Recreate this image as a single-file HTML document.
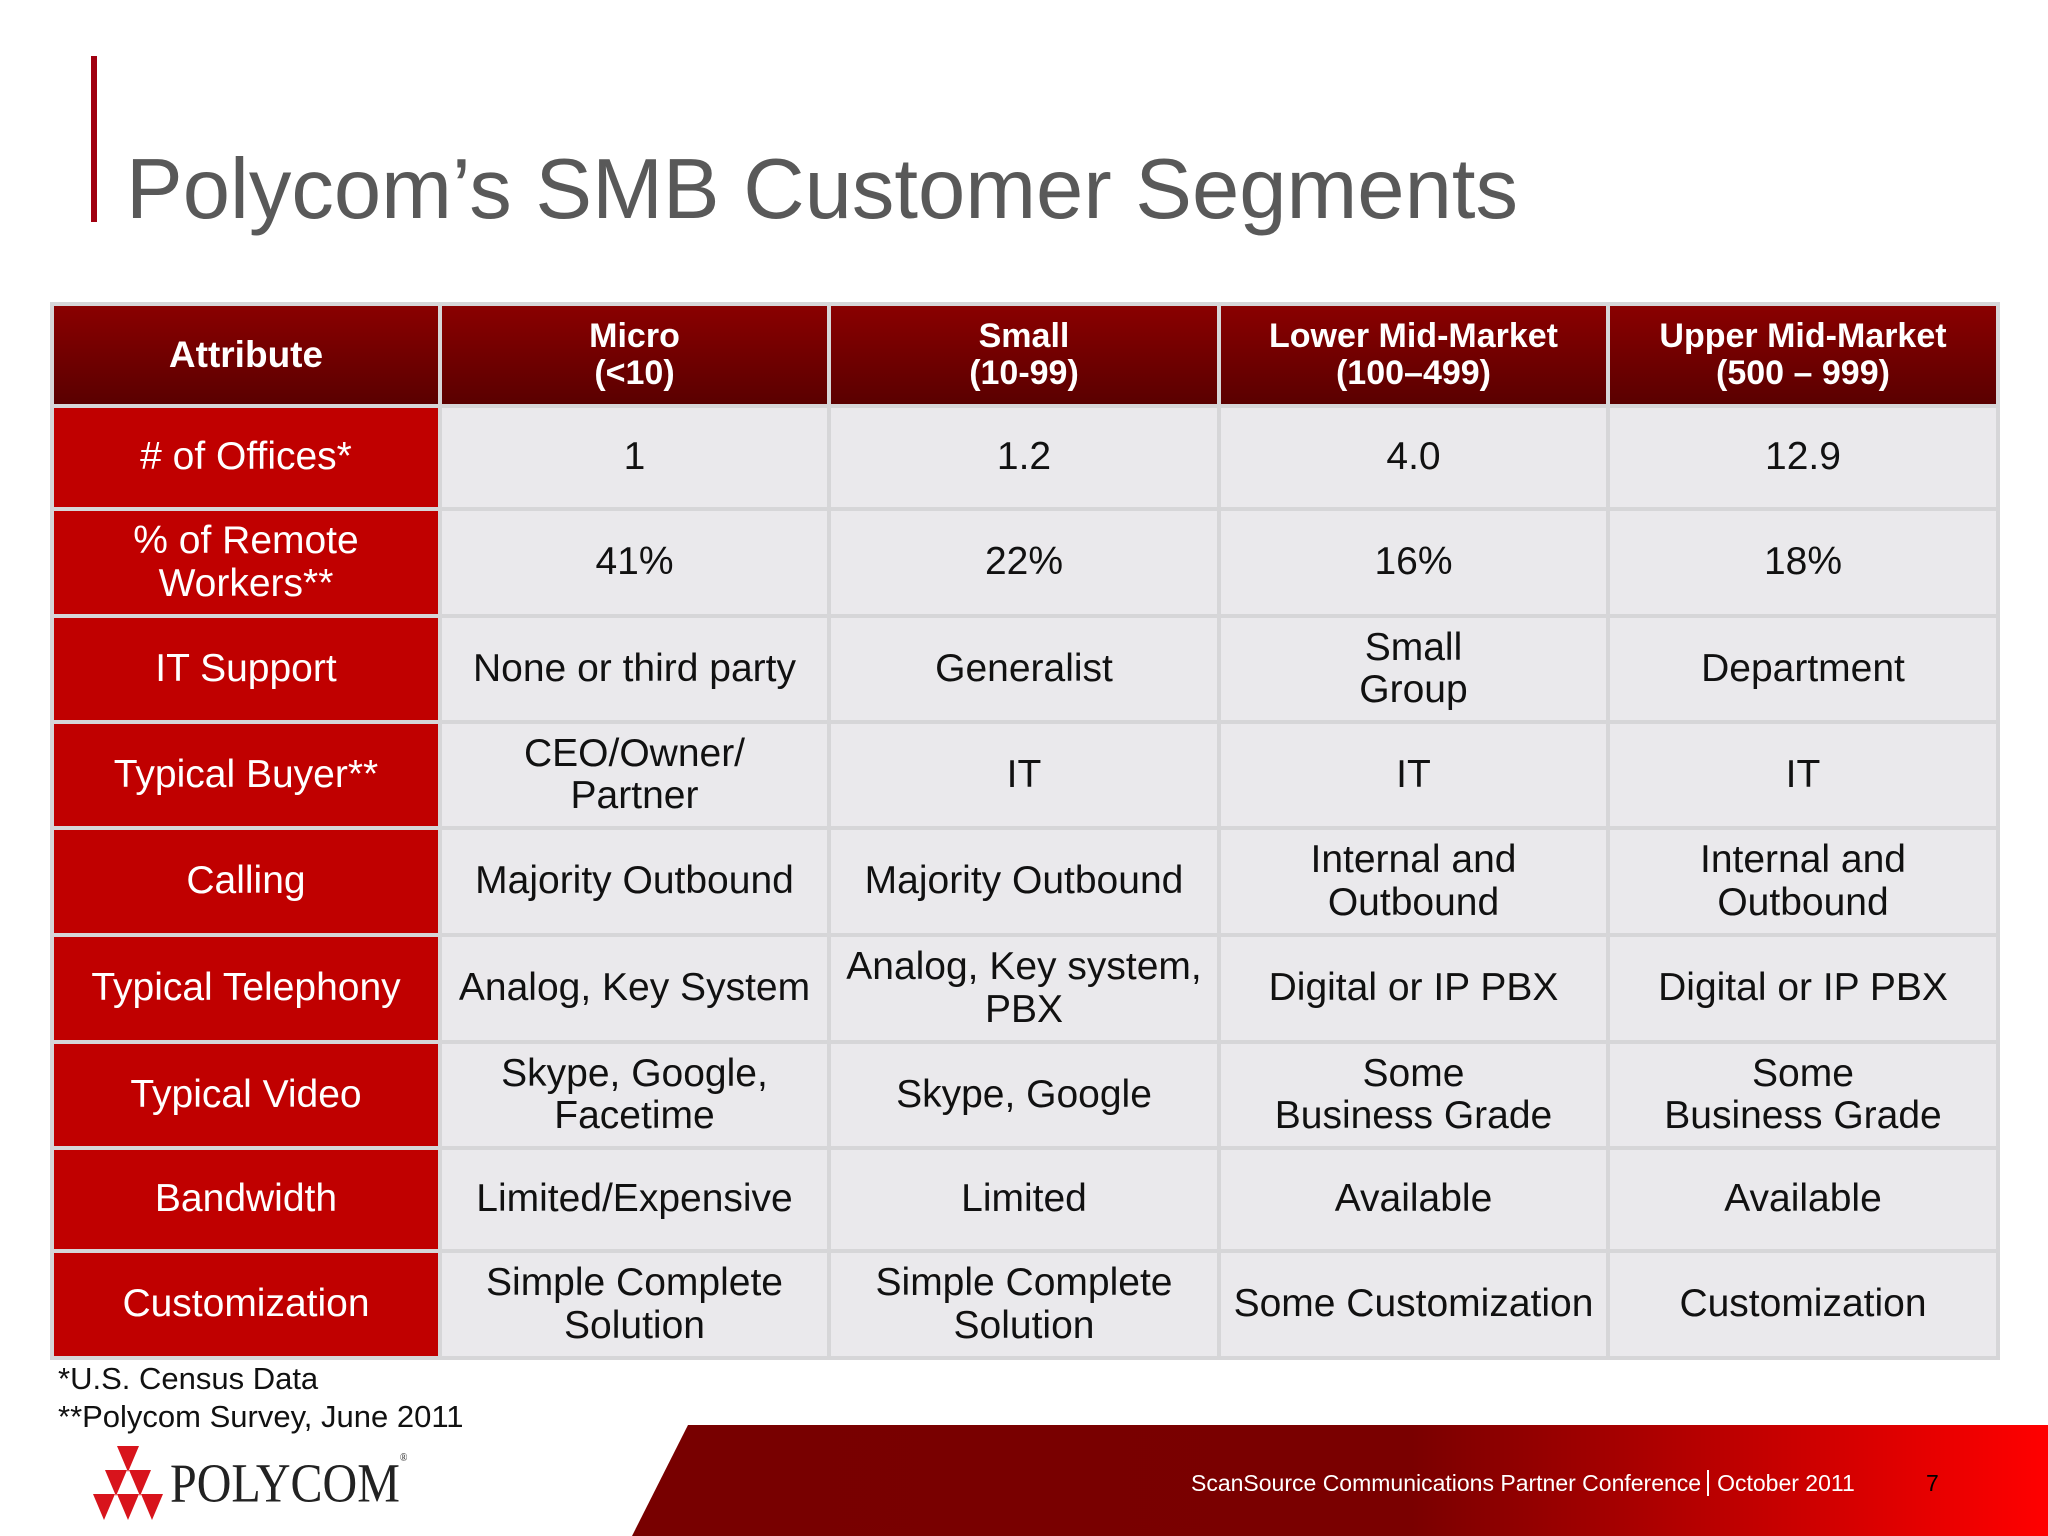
<!DOCTYPE html>
<html><head><meta charset="utf-8"><style>
html,body{margin:0;padding:0;width:2048px;height:1536px;overflow:hidden;background:#fff;font-family:"Liberation Sans",sans-serif;}
.abs{position:absolute;}
.cell{position:absolute;display:flex;align-items:center;justify-content:center;text-align:center;box-sizing:border-box;line-height:1.08;}
.hd{background:linear-gradient(#8a0000,#5a0000);color:#fff;font-weight:bold;font-size:34px;}
.lc{background:#c00000;color:#fff;font-size:39px;}
.bc{background:#eae9ec;color:#111;font-size:39px;}
</style></head><body>
<div class="abs" style="left:91px;top:56px;width:6px;height:166px;background:#a00010"></div>
<div class="abs" style="left:126px;top:141px;font-size:85px;color:#595959;white-space:nowrap">Polycom’s SMB Customer Segments</div>
<div class="abs" style="left:50px;top:302px;width:1950px;height:1058px;background:#d6d6d8"></div>
<div id="tbl"></div>
<div class="abs" style="left:58px;top:1361px;font-size:31px;color:#111">*U.S. Census Data</div>
<div class="abs" style="left:58px;top:1399px;font-size:31px;color:#111">**Polycom Survey, June 2011</div>
<svg class="abs" style="left:0;top:0" width="2048" height="1536">
<defs><linearGradient id="g" x1="0" x2="1"><stop offset="0" stop-color="#780000"/><stop offset="0.55" stop-color="#7a0000"/><stop offset="1" stop-color="#ff0000"/></linearGradient></defs>
<polygon points="688,1425 2048,1425 2048,1536 632,1536" fill="url(#g)"/>
<g fill="#d8141c">
<polygon points="117,1446 139,1446 128,1472"/><polygon points="105,1470 127,1470 116,1496"/><polygon points="129,1470 151,1470 140,1496"/>
<polygon points="93,1494 115,1494 104,1520"/><polygon points="117,1494 139,1494 128,1520"/><polygon points="141,1494 163,1494 152,1520"/>
</g>
</svg>
<div class="abs" style="left:170px;top:1452px;font-family:'Liberation Serif',serif;font-size:48px;color:#222;letter-spacing:0px;transform:scaleY(1.15);transform-origin:top left">POLYCOM<span style="font-size:10px;vertical-align:top">®</span></div>
<div class="abs" style="left:1191px;top:1470px;font-size:23px;color:#fff;white-space:nowrap">ScanSource Communications Partner Conference<span style="border-left:2px solid #fff;margin:0 8px 0 6px"></span>October 2011</div>
<div class="abs" style="left:1926px;top:1470px;font-size:23px;color:#000">7</div>
<script>
const xs=[52,440,829,1219,1608,1998];
const ys=[304,406,509,616,722,828,935,1042,1148,1251,1358];
const headers=["Attribute","Micro<br>(&lt;10)","Small<br>(10-99)","Lower Mid-Market<br>(100–499)","Upper Mid-Market<br>(500 – 999)"];
const rowLabels=["# of Offices*","% of Remote<br>Workers**","IT Support","Typical Buyer**","Calling","Typical Telephony","Typical Video","Bandwidth","Customization"];
const cells=[
["1","1.2","4.0","12.9"],
["41%","22%","16%","18%"],
["None or third party","Generalist","Small<br>Group","Department"],
["CEO/Owner/<br>Partner","IT","IT","IT"],
["Majority Outbound","Majority Outbound","Internal and<br>Outbound","Internal and<br>Outbound"],
["Analog, Key System","Analog, Key system,<br>PBX","Digital or IP PBX","Digital or IP PBX"],
["Skype, Google,<br>Facetime","Skype, Google","Some<br>Business Grade","Some<br>Business Grade"],
["Limited/Expensive","Limited","Available","Available"],
["Simple Complete<br>Solution","Simple Complete<br>Solution","Some Customization","Customization"]];
const t=document.getElementById('tbl');
function mk(c,r,html,cls,name){
 const d=document.createElement('div');
 d.className='cell '+cls;
 d.style.left=(xs[c]+2)+'px';d.style.top=(ys[r]+2)+'px';
 d.style.width=(xs[c+1]-xs[c]-4)+'px';d.style.height=(ys[r+1]-ys[r]-4)+'px';
 d.innerHTML=html;
 
 
 t.appendChild(d);
 return d;
}
headers.forEach((h,i)=>{const d=mk(i,0,h,'hd','header-cell');if(i===0)d.style.fontSize='37px';});
rowLabels.forEach((l,r)=>{mk(0,r+1,l,'lc','row-label');cells[r].forEach((v,c)=>mk(c+1,r+1,v,'bc','data-cell'));});
</script>
</body></html>
